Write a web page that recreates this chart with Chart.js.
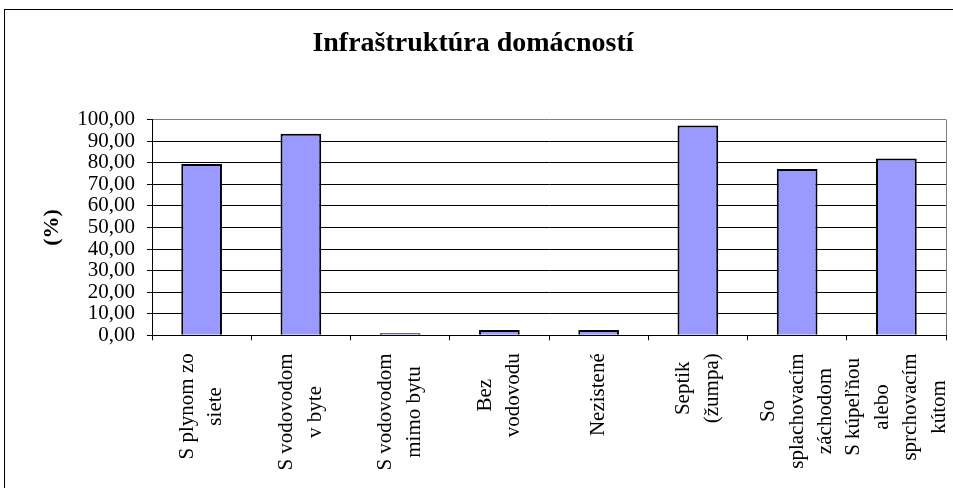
<!DOCTYPE html>
<html>
<head>
<meta charset="utf-8">
<script src="https://cdn.jsdelivr.net/npm/chart.js@4/dist/chart.umd.min.js"></script>
<style>
  html, body { margin: 0; padding: 0; background: #fff; overflow: hidden; }
  #wrap { position: relative; width: 953px; height: 488px; }
</style>
</head>
<body>
<div id="wrap"><canvas id="chart"></canvas></div>
<script>
// Kategórie (riadky popisu pod osou)
const categories = [
    ['S plynom zo', 'siete'],
    ['S vodovodom', 'v byte'],
    ['S vodovodom', 'mimo bytu'],
    ['Bez', 'vodovodu'],
    ['Nezistené'],
    ['Septik', '(žumpa)'],
    ['So', 'splachovacím', 'záchodom'],
    ['S kúpeľňou', 'alebo', 'sprchovacím', 'kútom']
];
// Podiel domácností v %
const shares = [79.4, 93.4, 1.0, 2.5, 2.5, 97.3, 77.1, 82.0];
const yTickLabels = ['0,00', '10,00', '20,00', '30,00', '40,00', '50,00',
    '60,00', '70,00', '80,00', '90,00', '100,00'];

const chartTitle = 'Infraštruktúra domácností';
const yTitle = '(%)';
const serif = "'Liberation Serif', 'Times New Roman', serif";

// ramik okolo celeho grafu
const framePlugin = {
    id: 'frame',
    beforeDraw(chart) {
        const ctx = chart.ctx;
        ctx.save();
        ctx.strokeStyle = '#000';
        ctx.lineWidth = 1;
        ctx.strokeRect(4.5, 9.5, 1000, 600);
        ctx.restore();
    }
};

// popisy kategorii otocene o 90 stupnov, riadky centrovane
const xLabelPlugin = {
    id: 'xLabels',
    afterDraw(chart) {
        const ctx = chart.ctx;
        const xScale = chart.scales.x;
        const lineH = 28.7;
        const top = chart.chartArea.bottom + 18;
        ctx.save();
        ctx.font = '21px ' + serif;
        ctx.fillStyle = '#000';
        ctx.textAlign = 'center';
        ctx.textBaseline = 'middle';
        categories.forEach((lines, i) => {
            const x = xScale.getPixelForTick(i);
            const maxW = Math.max(...lines.map(l => ctx.measureText(l).width));
            ctx.save();
            ctx.translate(x, top + maxW / 2);
            ctx.rotate(-Math.PI / 2);
            lines.forEach((line, j) => {
                ctx.fillText(line, 0, (j - (lines.length - 1) / 2) * lineH);
            });
            ctx.restore();
        });
        ctx.restore();
    }
};

new Chart(document.getElementById('chart'), {
    type: 'bar',
    data: {
        labels: categories,
        datasets: [{
            data: shares,
            backgroundColor: '#9999FF',
            borderColor: '#000',
            borderWidth: 2,
            barPercentage: 0.41,
            categoryPercentage: 1
        }]
    },
    options: {
        responsive: true,
        maintainAspectRatio: false,
        animation: false,
        layout: { padding: { left: 0, right: 7, top: 0, bottom: 0 } },
        plugins: {
            legend: { display: false },
            tooltip: { enabled: false },
            title: {
                display: true,
                text: chartTitle,
                color: '#000',
                font: { family: serif, size: 28, weight: 'bold' },
                padding: { top: 27, bottom: 59 }
            }
        },
        scales: {
            x: {
                offset: true,
                grid: {
                    offset: true,
                    drawOnChartArea: true,
                    color: c => c.tick ? 'rgba(0,0,0,0)' : '#808080',
                    tickColor: '#000',
                    tickLength: 5,
                    lineWidth: 1
                },
                border: { display: true, color: '#000', width: 1 },
                ticks: { display: false },
                afterFit(scale) { scale.height = 152.7; }
            },
            y: {
                min: 0,
                max: 100,
                ticks: {
                    stepSize: 10,
                    autoSkip: false,
                    color: '#000',
                    padding: 12,
                    font: { family: serif, size: 21, lineHeight: 1 },
                    callback: (v, i) => yTickLabels[i]
                },
                grid: {
                    color: c => (c.tick && c.tick.value === 100) ? '#808080' : '#000',
                    tickColor: '#000',
                    tickLength: 5,
                    lineWidth: 1
                },
                border: { display: true, color: '#000', width: 1 },
                title: {
                    display: true,
                    text: yTitle,
                    color: '#000',
                    font: { family: serif, size: 22, weight: 'bold' },
                    padding: { top: 39, bottom: 0 }
                },
                afterFit(scale) { scale.width = 152; }
            }
        }
    },
    plugins: [framePlugin, xLabelPlugin]
});
</script>
</body>
</html>
